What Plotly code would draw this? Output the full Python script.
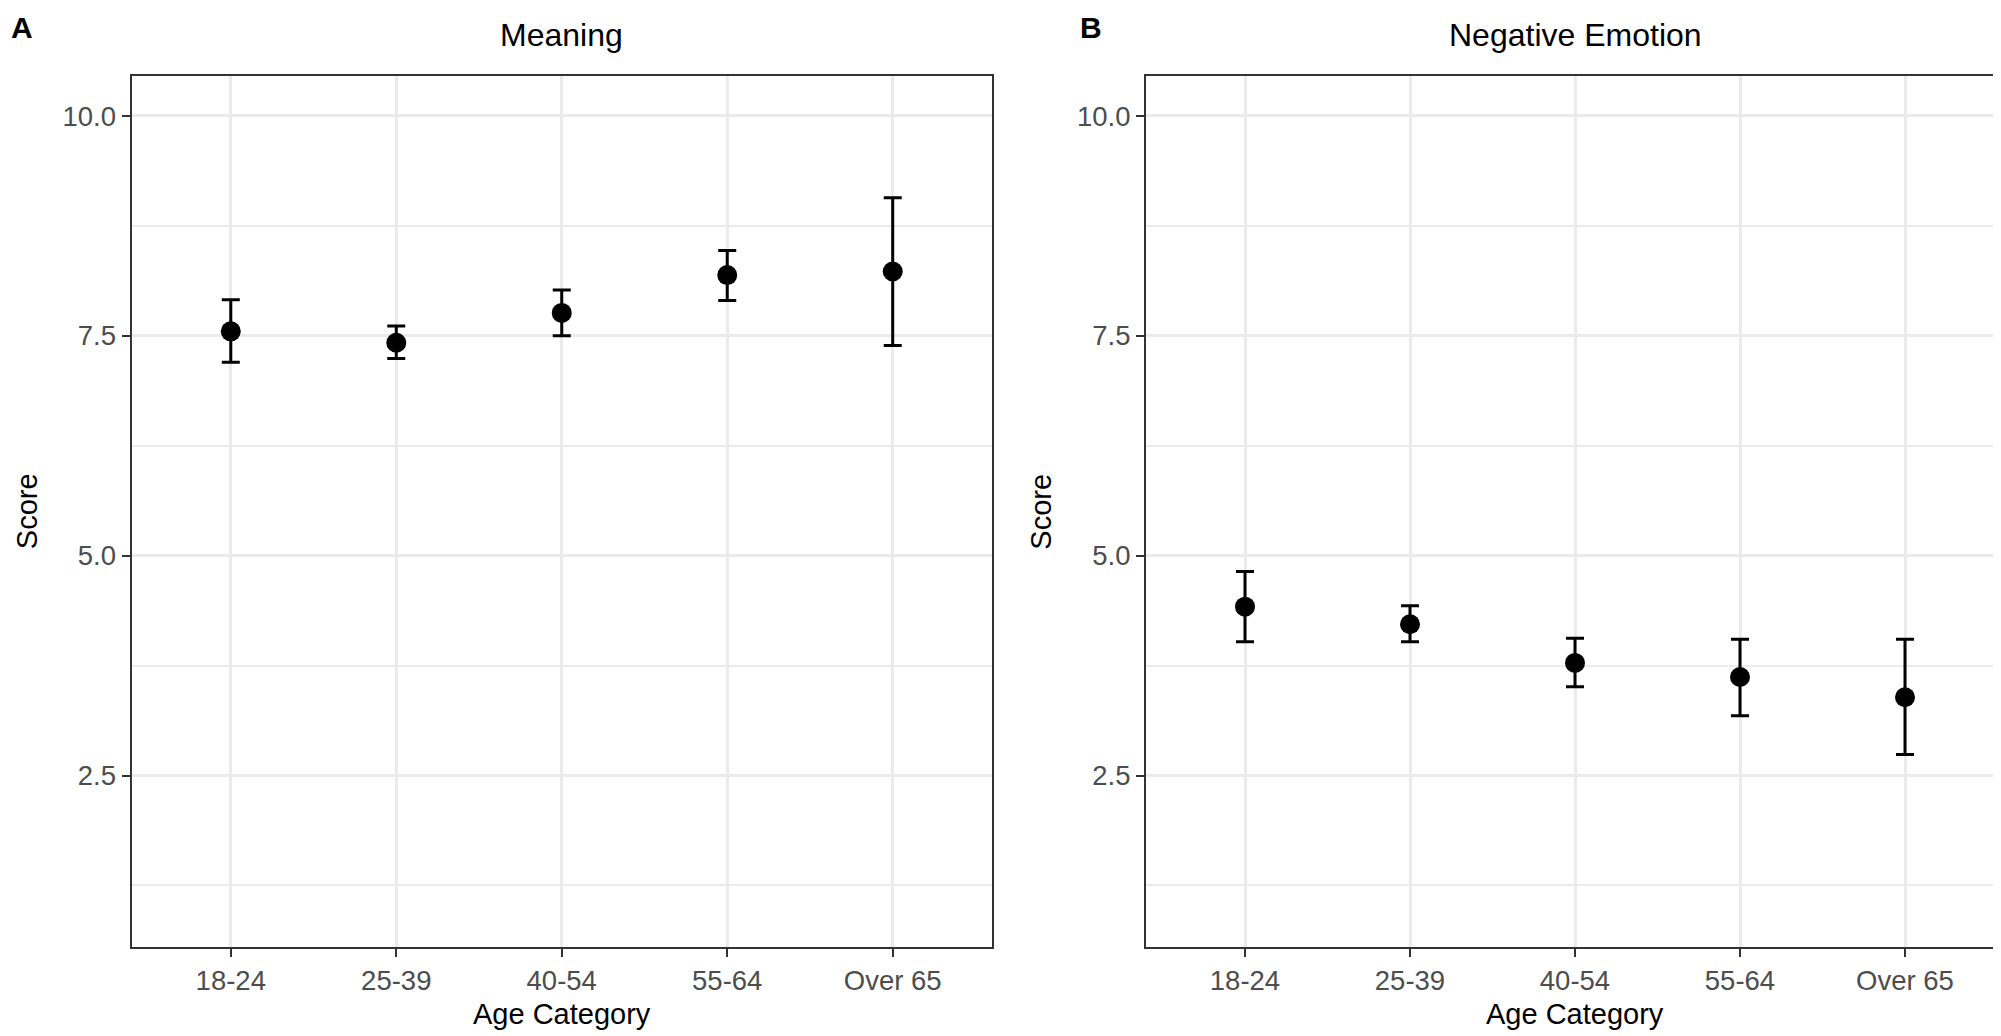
import plotly.graph_objects as go

# ---- data ----
age_categories = ["18-24", "25-39", "40-54", "55-64", "Over 65"]

meaning_mean = [7.55, 7.42, 7.76, 8.19, 8.23]
meaning_upper = [7.91, 7.61, 8.02, 8.47, 9.07]
meaning_lower = [7.20, 7.24, 7.50, 7.90, 7.39]

negemo_mean = [4.42, 4.22, 3.78, 3.62, 3.39]
negemo_upper = [4.82, 4.43, 4.06, 4.05, 4.05]
negemo_lower = [4.02, 4.02, 3.51, 3.18, 2.74]

y_tickvals = [2.5, 5.0, 7.5, 10.0]
y_ticktext = ["2.5", "5.0", "7.5", "10.0"]
y_minorvals = [1.25, 3.75, 6.25, 8.75]

panel_titles = ["Meaning", "Negative Emotion"]
panel_letters = ["A", "B"]

W, H = 2001, 1036
FONT = "Liberation Sans, Arial, Helvetica, sans-serif"

fig = go.Figure()


def add_panel(mean, upper, lower, xa, ya):
    plus = [u - m for u, m in zip(upper, mean)]
    minus = [m - l for m, l in zip(mean, lower)]
    fig.add_trace(go.Scatter(
        x=age_categories, y=mean, mode="markers",
        marker=dict(color="black", size=20),
        error_y=dict(type="data", symmetric=False, array=plus, arrayminus=minus,
                     color="black", thickness=3, width=9),
        xaxis=xa, yaxis=ya, showlegend=False,
    ))


add_panel(meaning_mean, meaning_upper, meaning_lower, "x", "y")
add_panel(negemo_mean, negemo_upper, negemo_lower, "x2", "y2")

x_dom1 = [123.5 / W, 984 / W]
x_dom2 = [1138 / W, 1996 / W]
y_dom = [1 - 939 / H, 1 - 68.3 / H]

common_x = dict(
    type="category", categoryorder="array", categoryarray=age_categories,
    range=[-0.6, 4.6], showgrid=True, gridcolor="#EBEBEB", gridwidth=2.6,
    showline=True, mirror=True, linecolor="#333333", linewidth=2,
    ticks="outside", ticklen=8, tickwidth=2, tickcolor="#333333",
    tickfont=dict(family=FONT, size=27.5, color="#4D4D4D"),
    zeroline=False, fixedrange=True,
)
common_y = dict(
    range=[0.55, 10.45], tickmode="array", tickvals=y_tickvals, ticktext=y_ticktext,
    showgrid=True, gridcolor="#EBEBEB", gridwidth=2.6,
    minor=dict(tickvals=y_minorvals, showgrid=True, gridcolor="#EBEBEB", gridwidth=1.6, ticks=""),
    showline=True, mirror=True, linecolor="#333333", linewidth=2,
    ticks="outside", ticklen=8, tickwidth=2, tickcolor="#333333",
    tickfont=dict(family=FONT, size=27.5, color="#4D4D4D"),
    zeroline=False, fixedrange=True,
)

annotations = []
for i, (dom, title, letter) in enumerate(zip([x_dom1, x_dom2], panel_titles, panel_letters)):
    cx = (dom[0] + dom[1]) / 2
    annotations.append(dict(text=title, x=cx, y=1 - 27 / H, xref="paper", yref="paper",
                            showarrow=False, xanchor="center", yanchor="middle",
                            font=dict(family=FONT, size=32, color="black")))
    annotations.append(dict(text="Age Category", x=cx, y=1 - 1006 / H, xref="paper", yref="paper",
                            showarrow=False, xanchor="center", yanchor="middle",
                            font=dict(family=FONT, size=29, color="black")))
    annotations.append(dict(text="Score", x=(dom[0] * W - 105) / W, y=(y_dom[0] + y_dom[1]) / 2,
                            xref="paper", yref="paper", textangle=-90,
                            showarrow=False, xanchor="center", yanchor="middle",
                            font=dict(family=FONT, size=29, color="black")))
    lx = [13.5, 1083][i]
    annotations.append(dict(text="<b>%s</b>" % letter, x=lx / W, y=1 - 20 / H, xref="paper", yref="paper",
                            showarrow=False, xanchor="center", yanchor="middle",
                            font=dict(family=FONT, size=30, color="black")))

fig.update_layout(
    width=W, height=H, margin=dict(l=0, r=0, t=0, b=0),
    paper_bgcolor="white", plot_bgcolor="white",
    xaxis=dict(domain=x_dom1, anchor="y", **common_x),
    yaxis=dict(domain=y_dom, anchor="x", **common_y),
    xaxis2=dict(domain=x_dom2, anchor="y2", **common_x),
    yaxis2=dict(domain=y_dom, anchor="x2", **common_y),
    annotations=annotations,
)

fig.write_html("out.html")
